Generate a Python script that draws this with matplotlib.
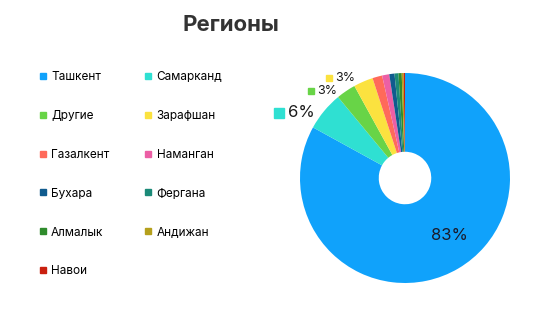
import numpy as np
import matplotlib.pyplot as plt
from matplotlib.lines import Line2D
from matplotlib.transforms import ScaledTranslation

plt.rcParams['font.family'] = ['Inter', 'DejaVu Sans']

# -- data
regions = ['Ташкент', 'Самарканд', 'Другие', 'Зарафшан', 'Газалкент', 'Наманган',
           'Бухара', 'Фергана', 'Алмалык', 'Андижан', 'Навои']
shares = [83.0, 6.0, 3.0, 3.0, 1.5, 1.1, 0.8, 0.6, 0.5, 0.3, 0.2]
colors = ['#10a2fb', '#2fe0d2', '#68d447', '#fbe23f', '#ff6a5a', '#ec5fa5',
          '#105b8e', '#1b8a78', '#2f8b2c', '#b5a01c', '#c9200f']

fig = plt.figure(figsize=(5.6, 3.15), dpi=100)
fig.text(0.413, 0.922, 'Регионы', ha='center', va='center', fontsize=16,
         fontweight='bold', color='#333333')

# -- pie (center 405,178 px, radius 105 px)
ax = fig.add_axes([300 / 560, (315 - 178 - 105) / 315, 210 / 560, 210 / 315])
wedges, _ = ax.pie(shares, colors=colors, startangle=90, counterclock=False,
                   radius=1, wedgeprops=dict(width=0.75, linewidth=0))
ax.set_xlim(-1, 1)
ax.set_ylim(-1, 1)
ax.set_aspect('equal')
ax.axis('off')

total = sum(shares)
angOff = 7.5
for w, s, c in zip(wedges, shares, colors):
    pct = 100 * s / total
    if pct < 2.5:
        continue
    th = np.deg2rad(0.5 * (w.theta1 + w.theta2) + angOff)
    txt = '%d%%' % round(pct)
    if pct > 50:
        ax.text(0.69 * np.cos(th), 0.69 * np.sin(th), txt, ha='center', va='center',
                fontsize=12, color='#1a1a2a')
        continue
    fs = 12 if pct >= 5 else 9
    r = 1.17 if pct >= 5 else 1.11
    x, y = r * np.cos(th), r * np.sin(th)
    ax.text(x, y, txt, ha='center', va='center', fontsize=fs, color='#1a1a1a',
            clip_on=False)
    ax.plot([x], [y], marker='s', ms=0.55 * fs, color=c, linestyle='none',
            clip_on=False,
            transform=ax.transData + ScaledTranslation(-1.3 * fs / 72, 0,
                                                       fig.dpi_scale_trans))

# -- legend, row-major order in two columns
order = list(range(0, len(regions), 2)) + list(range(1, len(regions), 2))
handles = [Line2D([], [], marker='s', ms=4.5, linestyle='none', color=colors[i])
           for i in order]
labels = [regions[i] for i in order]
fig.legend(handles, labels, ncol=2, loc='upper left', bbox_to_anchor=(0.068, 0.775),
           frameon=False, fontsize=8.5, borderpad=0, borderaxespad=0,
           handlelength=0.8, handletextpad=0.3, labelspacing=2.28,
           columnspacing=2.9)

fig.savefig('out.png', dpi=100)
